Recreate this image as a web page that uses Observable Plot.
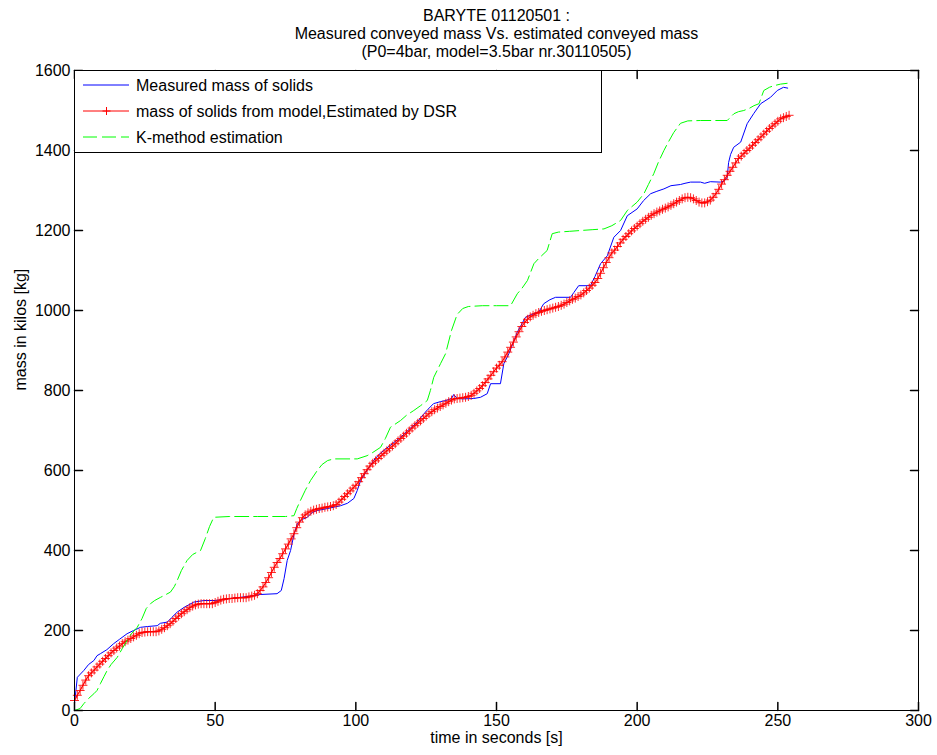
<!DOCTYPE html>
<html><head><meta charset="utf-8">
<script src="https://cdn.jsdelivr.net/npm/d3@7"></script>
<script src="https://cdn.jsdelivr.net/npm/@observablehq/plot@0.6"></script>
<style>
body{margin:0;background:#fff;}
#wrap{position:relative;width:937px;height:755px;font-family:"Liberation Sans",Arial,Helvetica,sans-serif;}
#legend{position:absolute;left:74px;top:70px;}
</style></head><body><div id="wrap"></div>
<script>
const titleLines = ["BARYTE 01120501 :", "Measured conveyed mass Vs. estimated conveyed mass", "(P0=4bar, model=3.5bar nr.30110505)"];
const xLabel = "time in seconds [s]";
const yLabel = "mass in kilos [kg]";
const xTicks = [0, 50, 100, 150, 200, 250, 300];
const yTicks = [0, 200, 400, 600, 800, 1000, 1200, 1400, 1600];
const seriesNames = ["Measured mass of solids", "mass of solids from model,Estimated by DSR", "K-method estimation"];

// Measured mass of solids: [time s, mass kg]
const measured = [[0,17],[0.5,50],[1,83],[3.3,100],[5,115],[6.9,125],[8,137],[9.2,142],[11.5,152],[13.9,167],[16,178],[18.7,192],[21,200],[23.5,208],[26,210],[29.4,212],[30.5,218],[33,221],[34.5,232],[36.5,246],[39,258],[42.4,271],[46,275],[50,275],[54.3,279],[59,283],[63.7,287],[66,290],[72,292],[73.5,300],[74.5,330],[75.6,375],[76.8,400],[78,440],[79.2,467],[81,478],[82.7,483],[84.5,495],[86.3,500],[90,505],[94.6,512],[97,518],[99.3,530],[100.5,550],[101.7,575],[104,600],[106.3,625],[108,638],[109.9,650],[113,667],[115.9,683],[118.5,700],[121.8,721],[124,740],[125.5,752],[127.6,767],[130,772],[132,775],[134,780],[134.8,790],[136,780],[138,779],[141.9,780],[144.3,783],[146.7,792],[147.9,817],[151.4,817],[152.6,867],[154.4,892],[157.4,946],[160.3,983],[162.5,990],[165,996],[166.8,1017],[169,1027],[171,1033],[176.3,1033],[177.5,1045],[179.2,1062],[183.4,1062],[185,1085],[187,1117],[189.4,1137],[191.7,1183],[194.1,1200],[196.5,1237],[200,1254],[202.3,1275],[204.8,1292],[207,1298],[209.5,1304],[212,1312],[215.4,1315],[217,1318],[219,1321],[222.5,1321],[224,1318],[226,1322],[229.6,1321],[231,1324],[232,1333],[232.5,1370],[233.2,1390],[234.3,1408],[236.8,1421],[239.1,1467],[241.4,1492],[243.9,1517],[247.4,1533],[249.8,1550],[252,1558],[253.5,1556]];

// Model (DSR) estimate, one sample per second starting at t = 0
const modelStep = 1;
const modelMass = [
  25,38,50,63,76,87,94,101,109,116,
  123,130,137,144,150,156,161,167,172,176,
  180,184,188,192,195,196,197,197,197,197,
  199,203,207,212,217,223,230,236,242,247,
  252,257,261,264,266,267,267,267,267,267,
  270,273,276,278,279,280,280,281,282,282,
  282,282,284,286,288,292,300,309,320,332,
  345,358,370,380,392,404,416,429,442,457,
  471,482,489,494,498,501,503,505,506,508,
  509,510,512,515,521,528,535,542,549,556,
  563,572,582,592,602,611,618,624,630,637,
  643,649,655,661,667,674,680,686,693,699,
  706,712,718,724,730,736,742,747,752,756,
  760,764,768,772,776,779,780,781,782,783,
  785,788,793,799,805,812,820,829,838,847,
  856,863,872,884,896,908,921,934,947,960,
  970,978,984,988,992,995,998,1000,1002,1004,
  1006,1008,1010,1013,1016,1020,1024,1028,1031,1035,
  1039,1044,1050,1056,1063,1070,1080,1093,1107,1120,
  1132,1144,1151,1160,1169,1178,1185,1192,1199,1205,
  1211,1217,1223,1228,1233,1238,1242,1246,1249,1253,
  1256,1259,1263,1267,1271,1275,1279,1282,1283,1282,
  1279,1275,1271,1269,1269,1272,1276,1283,1292,1303,
  1316,1327,1338,1348,1358,1369,1380,1386,1393,1400,
  1406,1413,1420,1427,1434,1441,1448,1455,1461,1467,
  1473,1479,1482,1485,1488];

// K-method estimation: [time s, mass kg]
const kmethod = [[0,0],[2,5],[3.3,17],[5,30],[6.9,42],[8,50],[9.2,67],[10.5,85],[11.6,100],[13,115],[15.2,133],[17,155],[18.7,175],[20,190],[22.3,208],[24,230],[25.5,255],[27,267],[28.5,275],[30.6,283],[32,288],[34.1,296],[35.5,310],[36.5,325],[38,350],[40,375],[42,390],[44.8,400],[46.5,430],[48,460],[49.5,483],[55,485],[65,485],[75,485],[78,487],[79,505],[80.3,525],[82,550],[83.9,575],[86.3,600],[88,615],[90,625],[92.2,629],[100.5,629],[104,637],[106,645],[108.8,658],[110.5,680],[112.3,708],[114,716],[115.9,725],[118,738],[120.6,750],[123,762],[125.4,775],[126.5,800],[127.7,833],[130.1,867],[131.9,892],[134,950],[136,990],[138,1005],[140,1010],[145,1012],[150,1012],[155,1012],[157.4,1042],[159,1055],[161,1075],[163.3,1117],[165,1130],[168,1150],[169.8,1192],[172,1196],[176,1198],[179.9,1200],[184,1202],[188.2,1204],[191,1212],[194.1,1225],[196.5,1250],[200,1271],[202.4,1292],[204,1315],[205.9,1342],[207.5,1370],[209.5,1400],[211,1420],[213,1445],[215.4,1468],[218,1474],[222.5,1475],[228,1475],[232,1475],[234.4,1492],[236,1497],[237.9,1500],[240,1506],[241.5,1512],[243.3,1517],[245,1550],[247,1558],[248.6,1562],[251,1566],[253.3,1568]];

const colors = ["#0000ff", "#ff0000", "#00ff00"];
const model = modelMass.map((m, i) => [i * modelStep, m]);

const FONT = '"Liberation Sans", Arial, Helvetica, sans-serif';
const tickShape = {draw(ctx, l) { ctx.moveTo(0, 0); ctx.lineTo(0, -l); }};
const TL = 8;
const fmt = d => String(d);

const chart = Plot.plot({
  width: 937, height: 755,
  marginLeft: 74, marginRight: 19, marginTop: 70, marginBottom: 45,
  style: {fontFamily: FONT, fontSize: "16px", background: "white", color: "black", overflow: "visible"},
  x: {domain: [0, 300]},
  y: {domain: [0, 1600]},
  marks: [
    Plot.line(measured, {x: d => d[0], y: d => d[1], stroke: colors[0], strokeWidth: 1}),
    Plot.line(model, {x: d => d[0], y: d => d[1], stroke: colors[1], strokeWidth: 1.2}),
    Plot.dot(model, {x: d => d[0], y: d => d[1], symbol: "plus", r: 3, stroke: colors[1], strokeWidth: 1, strokeOpacity: 0.85}),
    Plot.line(kmethod, {x: d => d[0], y: d => d[1], stroke: colors[2], strokeWidth: 1, strokeDasharray: "14,5"}),
    Plot.frame({stroke: "black", strokeWidth: 1}),
    Plot.vector(xTicks, {x: d => d, frameAnchor: "bottom", length: TL, rotate: 0, anchor: "start", shape: tickShape, stroke: "black"}),
    Plot.vector(xTicks, {x: d => d, frameAnchor: "top", length: TL, rotate: 180, anchor: "start", shape: tickShape, stroke: "black"}),
    Plot.vector(yTicks, {y: d => d, frameAnchor: "left", length: TL, rotate: 90, anchor: "start", shape: tickShape, stroke: "black"}),
    Plot.vector(yTicks, {y: d => d, frameAnchor: "right", length: TL, rotate: -90, anchor: "start", shape: tickShape, stroke: "black"}),
    Plot.axisX({ticks: xTicks, tickFormat: fmt, tickSize: 0, tickPadding: 4, label: null, fontSize: 16}),
    Plot.axisY({ticks: yTicks, tickFormat: fmt, tickSize: 0, tickPadding: 4, label: null, fontSize: 16}),
    Plot.text([xLabel], {frameAnchor: "bottom", dy: 32, text: d => d, fontSize: 16, fill: "black"}),
    Plot.text([yLabel], {frameAnchor: "left", dx: -54, rotate: -90, text: d => d, fontSize: 16, fill: "black"}),
    Plot.text([titleLines.join("\n")], {frameAnchor: "top", dy: -62, text: d => d, fontSize: 16, lineHeight: 1.125, fill: "black"})
  ]
});
document.getElementById("wrap").appendChild(chart);

// Legend box
const ns = "http://www.w3.org/2000/svg";
const lg = document.createElementNS(ns, "svg");
lg.setAttribute("id", "legend");
lg.setAttribute("width", 529); lg.setAttribute("height", 84);
let html = `<rect x="0.5" y="0.5" width="527" height="82" fill="white" stroke="black"/>`;
seriesNames.forEach((name, i) => {
  const y = 15 + i * 26;
  const dash = i === 2 ? ` stroke-dasharray="14,5"` : "";
  html += `<line x1="9" x2="55" y1="${y}" y2="${y}" stroke="${colors[i]}" stroke-width="1"${dash}/>`;
  if (i === 1) html += `<path d="M28.5,${y}H36.5M32.5,${y-4}V${y+4}" stroke="${colors[i]}" fill="none"/>`;
  html += `<text x="62" y="${y}" dy="0.35em" font-family='${FONT}' font-size="16" fill="black">${name}</text>`;
});
lg.innerHTML = html;
document.getElementById("wrap").appendChild(lg);
</script></body></html>
